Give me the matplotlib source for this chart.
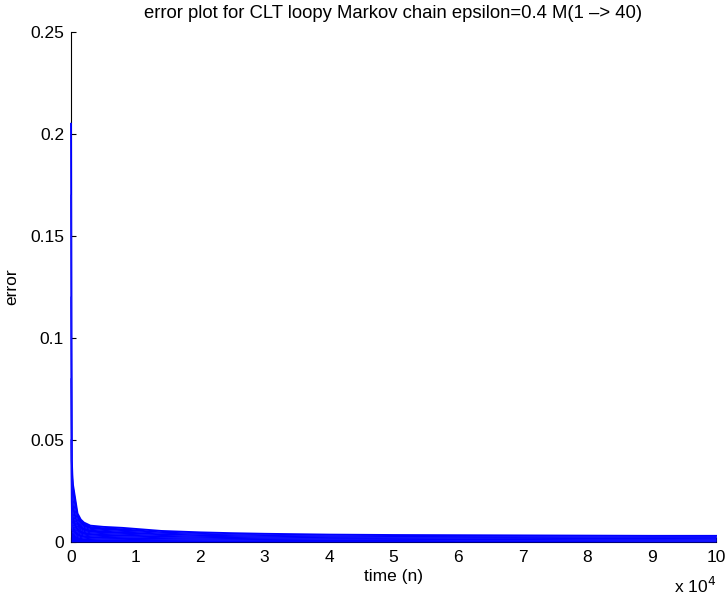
import matplotlib
matplotlib.use('Agg')
import matplotlib.pyplot as plt
from matplotlib.ticker import FuncFormatter

plt.rcParams['font.family'] = ['Liberation Sans', 'DejaVu Sans']

# sample times (n) and read-off error levels for a handful of the 40 runs
time_n = [0, 60, 120, 200, 300, 600, 1000, 1500, 2000, 3000, 5000, 8000,
          10000, 14000, 20000, 25000, 30000, 40000, 50000, 60000, 70000,
          80000, 90000, 100000]

# upper edge of the bundle of curves
err_top = [0.205, 0.12, 0.04, 0.033, 0.028, 0.022, 0.014, 0.011,
           0.0095, 0.008, 0.0074, 0.0069, 0.0064, 0.0054, 0.0047, 0.0043,
           0.004, 0.0036, 0.0034, 0.0033, 0.0032, 0.0031, 0.003, 0.003]

err_a = [0.17, 0.09, 0.032, 0.025, 0.021, 0.016, 0.0105, 0.0085, 0.0072,
         0.0062, 0.0057, 0.0052, 0.005, 0.0043, 0.0038, 0.0035, 0.0032, 0.0029,
         0.0027, 0.0026, 0.0025, 0.0024, 0.0023, 0.0023]
err_b = [0.12, 0.06, 0.022, 0.017, 0.014, 0.011, 0.0075, 0.006, 0.0052,
         0.0045, 0.0041, 0.0038, 0.0036, 0.0032, 0.0028, 0.0026, 0.0024,
         0.0021, 0.002, 0.0019, 0.0018, 0.0017, 0.0017, 0.0016]
err_c = [0.08, 0.035, 0.014, 0.01, 0.0085, 0.0068, 0.0048, 0.0039,
         0.0034, 0.003, 0.0027, 0.0025, 0.0024, 0.0021, 0.0019, 0.0017, 0.0016,
         0.0014, 0.0013, 0.0012, 0.0012, 0.0011, 0.0011, 0.001]
err_d = [0.05, 0.02, 0.008, 0.0055, 0.0045, 0.0036, 0.0027, 0.0022,
         0.0019, 0.0016, 0.0014, 0.0013, 0.0012, 0.0011, 0.001, 0.0009, 0.0008,
         0.0007, 0.0007, 0.0006, 0.0006, 0.0006, 0.0005, 0.0005]

fig = plt.figure(figsize=(7.27, 6.01), dpi=100)
ax = fig.add_axes([0.0977, 0.0982, 0.8872, 0.8486])

ax.fill_between(time_n, 0, err_top, color='#0000ff', lw=0, zorder=3)
ax.plot(time_n, err_top, color='#0000ff', lw=1.4, zorder=3, clip_on=False)
for e in [err_a, err_b, err_c, err_d]:
    ax.plot(time_n, e, color='white', lw=0.4, alpha=0.5, zorder=3)
    ax.plot(time_n, e, color='#0000ff', lw=0.8, zorder=3, clip_on=False)

ax.set_xlim(0, 100000)
ax.set_ylim(0, 0.25)
ax.set_xticks([i * 10000 for i in range(11)])
ax.xaxis.set_major_formatter(FuncFormatter(lambda v, p: '%d' % round(v / 10000)))
ax.set_yticks([0, 0.05, 0.1, 0.15, 0.2, 0.25])
ax.set_yticklabels(['0', '0.05', '0.1', '0.15', '0.2', '0.25'])
ax.tick_params(direction='in', length=3.5, labelsize=12.5, width=0.8)
ax.tick_params(axis='x', pad=6)
ax.tick_params(axis='y', pad=5)

ax.spines['top'].set_visible(False)
ax.spines['right'].set_visible(False)
ax.spines['left'].set_linewidth(0.8)
ax.spines['bottom'].set_linewidth(0.8)

ax.set_xlabel('time (n)', fontsize=12.5, labelpad=3)
ax.set_ylabel('error', fontsize=12.5, labelpad=8)
ax.set_title('error plot for CLT loopy Markov chain epsilon=0.4 M(1 \u2013> 40)',
             fontsize=13.3, pad=10)
ax.text(1.0, -0.1, 'x 10$^{4}$', transform=ax.transAxes, fontsize=12.5,
        ha='right', va='baseline')

fig.savefig('out.png', dpi=100)
